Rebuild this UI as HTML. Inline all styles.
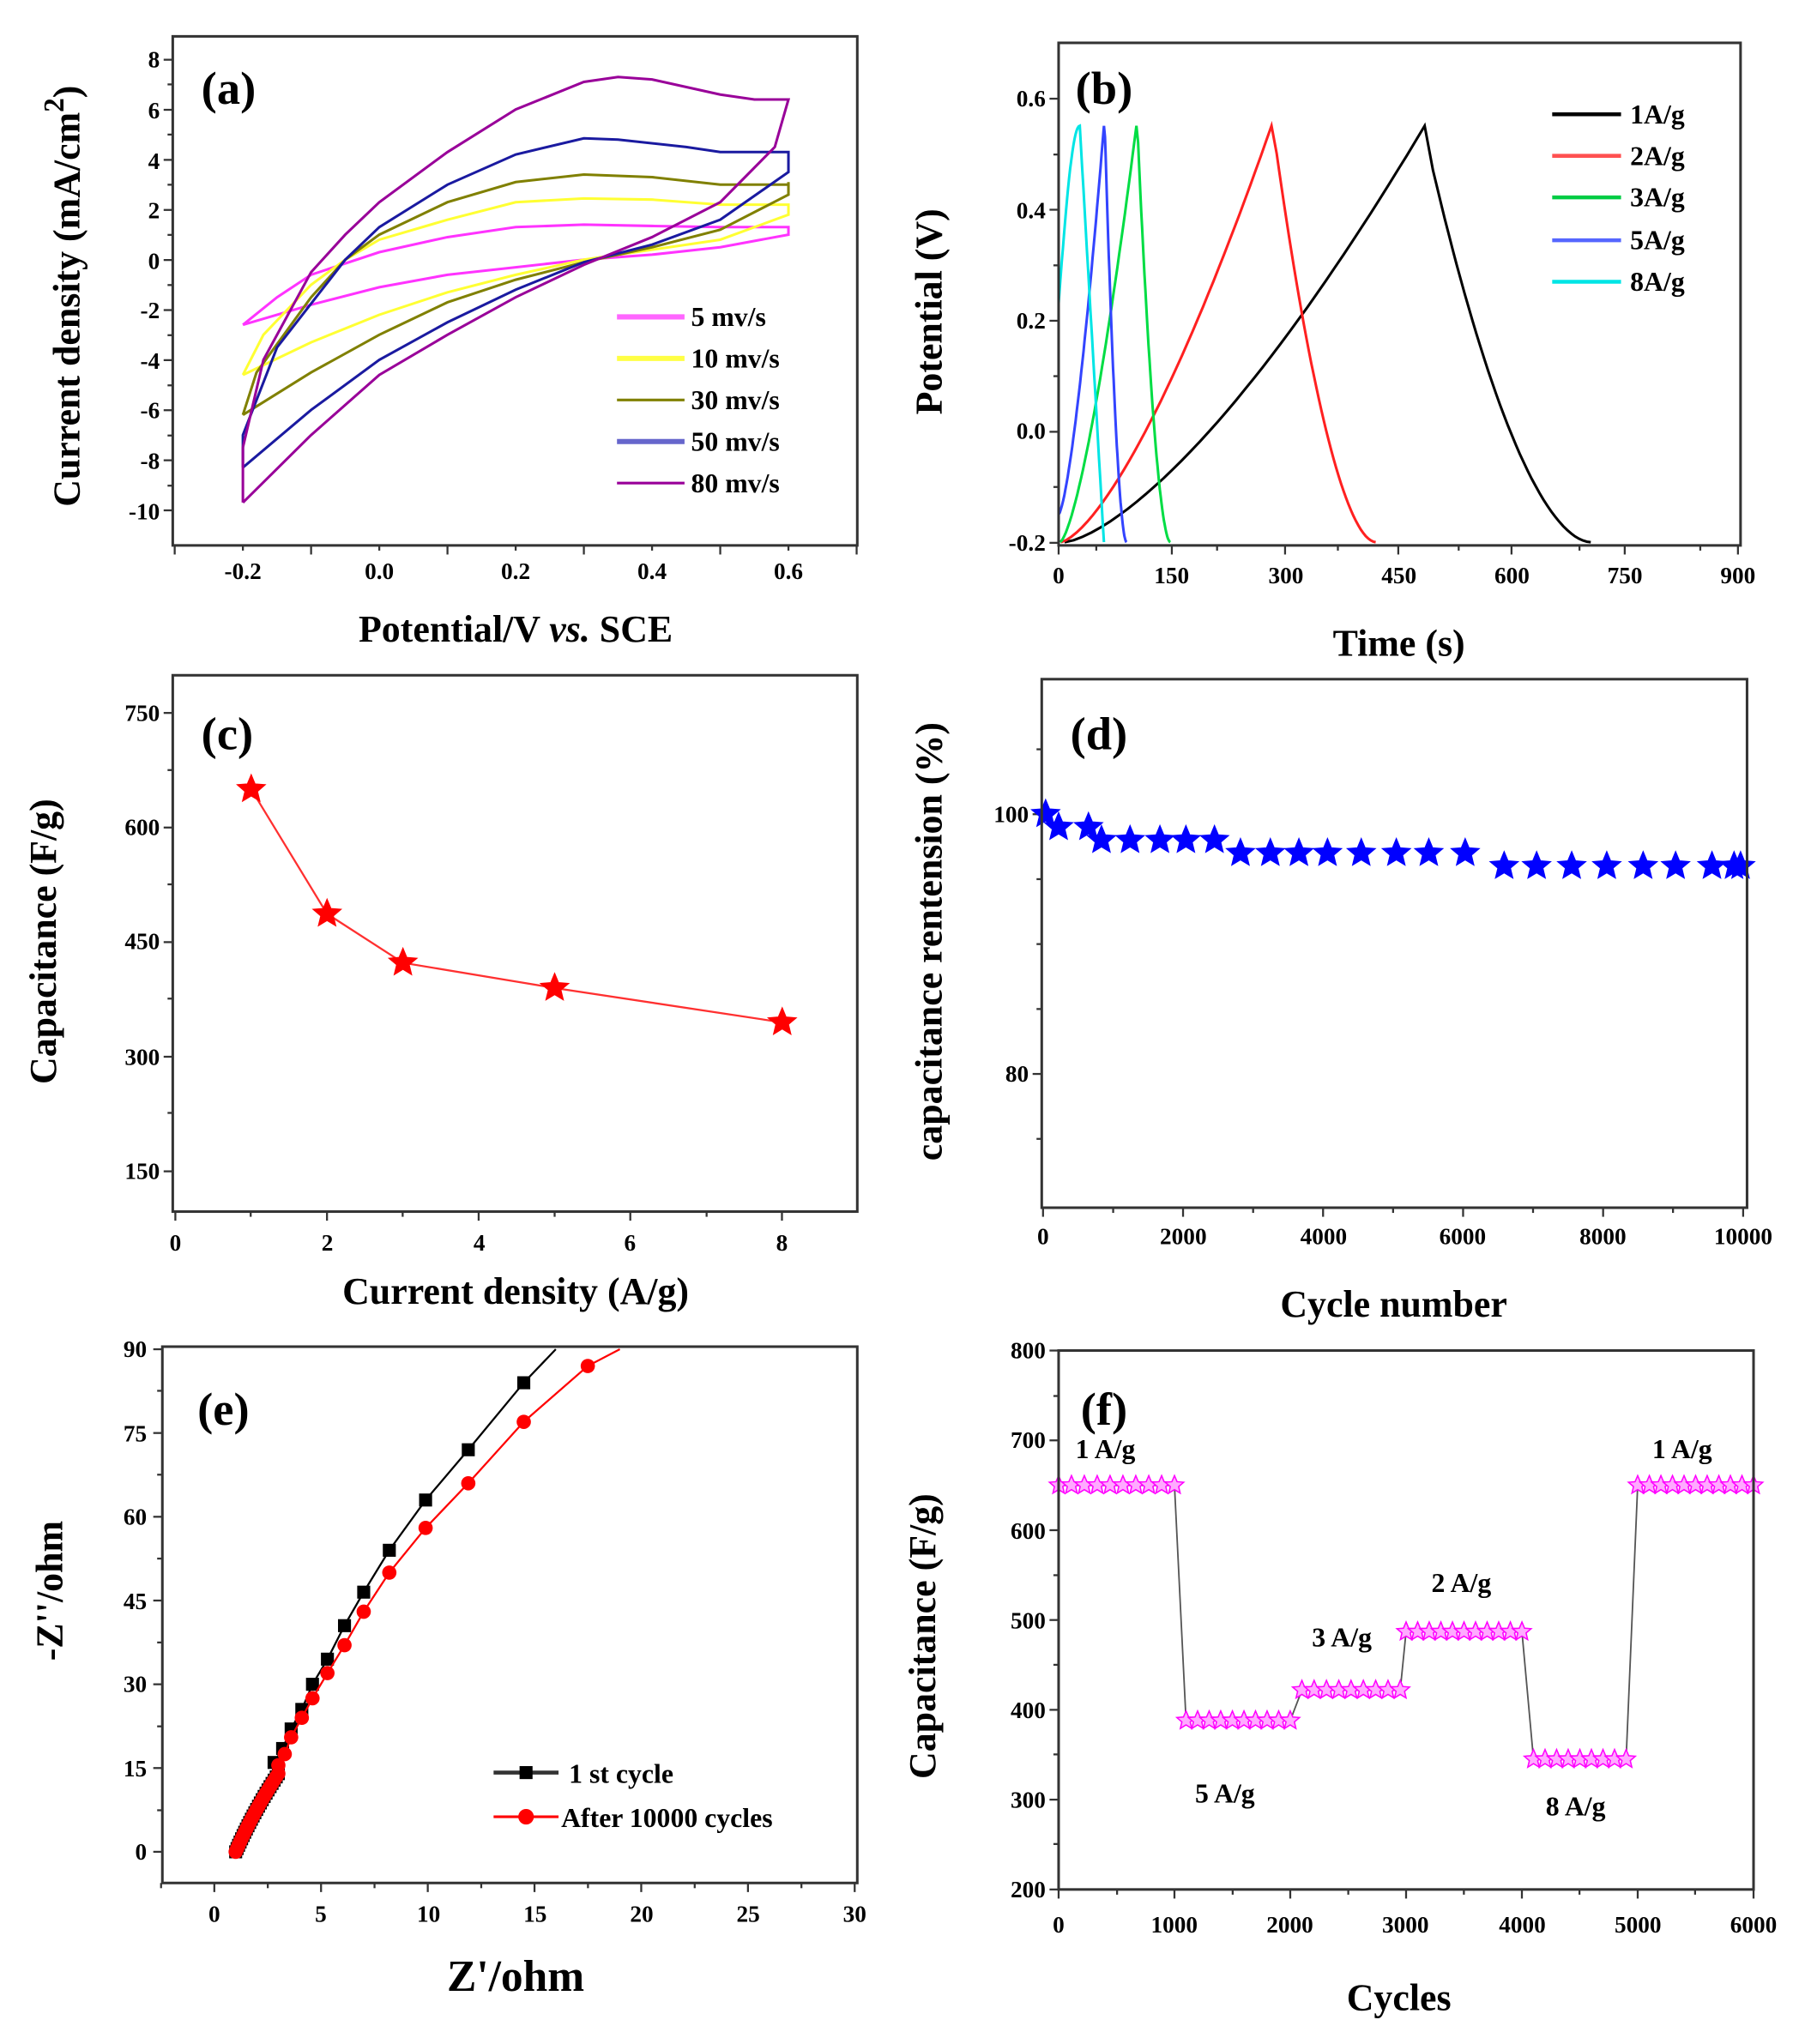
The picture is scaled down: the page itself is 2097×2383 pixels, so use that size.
<!DOCTYPE html>
<html><head><meta charset="utf-8"><style>
html,body{margin:0;padding:0;background:#fff}
svg{display:block}
text{font-family:"Liberation Serif",serif;font-weight:bold;fill:#000}
.t{font-size:18px}
.ax{font-size:29px}
.pl{font-size:36px}
.lg{font-size:21px}
.fr{fill:none;stroke:#333;stroke-width:2}
</style></head><body>
<svg id="s" width="2097" height="2383" viewBox="0 0 1385 1574" preserveAspectRatio="none" xmlns="http://www.w3.org/2000/svg">
<g id="g"></g>
<!-- panel a -->
<rect class="fr" x="133" y="28" width="527" height="392"/>
<text class="pl" x="155" y="80">(a)</text>
<g class="t" text-anchor="end">
<text x="123" y="52">8</text><text x="123" y="91">6</text><text x="123" y="130">4</text><text x="123" y="168">2</text><text x="123" y="207">0</text><text x="123" y="245">-2</text><text x="123" y="284">-4</text><text x="123" y="322">-6</text><text x="123" y="361">-8</text><text x="123" y="400">-10</text>
</g>
<g class="t" text-anchor="middle">
<text x="187" y="446">-0.2</text><text x="292" y="446">0.0</text><text x="397" y="446">0.2</text><text x="502" y="446">0.4</text><text x="607" y="446">0.6</text>
</g>
<text class="ax" x="397" y="494" text-anchor="middle">Potential/V <tspan font-style="italic">vs.</tspan> SCE</text>
<text class="ax" transform="translate(61,228) rotate(-90)" text-anchor="middle">Current density (mA/cm<tspan dy="-12" font-size="22">2</tspan><tspan dy="12">)</tspan></text>
<g class="lg"><text x="532" y="251">5 mv/s</text><text x="532" y="283">10 mv/s</text><text x="532" y="315">30 mv/s</text><text x="532" y="347">50 mv/s</text><text x="532" y="379">80 mv/s</text></g>
<!-- panel b -->
<rect class="fr" x="815" y="33" width="525" height="387"/>
<text class="pl" x="828" y="80">(b)</text>
<g class="t" text-anchor="end">
<text x="805" y="82">0.6</text><text x="805" y="168">0.4</text><text x="805" y="253">0.2</text><text x="805" y="338">0.0</text><text x="805" y="424">-0.2</text>
</g>
<g class="t" text-anchor="middle">
<text x="815" y="449">0</text><text x="902" y="449">150</text><text x="990" y="449">300</text><text x="1077" y="449">450</text><text x="1164" y="449">600</text><text x="1251" y="449">750</text><text x="1338" y="449">900</text>
</g>
<text class="ax" x="1077" y="505" text-anchor="middle">Time (s)</text>
<text class="ax" transform="translate(725,240) rotate(-90)" text-anchor="middle">Potential (V)</text>
<g class="lg"><text x="1255" y="95">1A/g</text><text x="1255" y="127">2A/g</text><text x="1255" y="159">3A/g</text><text x="1255" y="192">5A/g</text><text x="1255" y="224">8A/g</text></g>
<!-- panel c -->
<rect class="fr" x="133" y="520" width="527" height="413"/>
<text class="pl" x="155" y="577">(c)</text>
<g class="t" text-anchor="end">
<text x="123" y="555">750</text><text x="123" y="643">600</text><text x="123" y="731">450</text><text x="123" y="820">300</text><text x="123" y="908">150</text>
</g>
<g class="t" text-anchor="middle">
<text x="135" y="963">0</text><text x="252" y="963">2</text><text x="369" y="963">4</text><text x="485" y="963">6</text><text x="602" y="963">8</text>
</g>
<text class="ax" x="397" y="1004" text-anchor="middle">Current density (A/g)</text>
<text class="ax" transform="translate(43,725) rotate(-90)" text-anchor="middle">Capacitance (F/g)</text>
<!-- panel d -->
<rect class="fr" x="802" y="523" width="543" height="407"/>
<text class="pl" x="824" y="577">(d)</text>
<g class="t" text-anchor="end">
<text x="792" y="633">100</text><text x="792" y="833">80</text>
</g>
<g class="t" text-anchor="middle">
<text x="803" y="958">0</text><text x="911" y="958">2000</text><text x="1019" y="958">4000</text><text x="1126" y="958">6000</text><text x="1234" y="958">8000</text><text x="1342" y="958">10000</text>
</g>
<text class="ax" x="1073" y="1014" text-anchor="middle">Cycle number</text>
<text class="ax" transform="translate(725,725) rotate(-90)" text-anchor="middle">capacitance rentension (%)</text>
<!-- panel e -->
<rect class="fr" x="125" y="1037" width="535" height="413"/>
<text class="pl" x="152" y="1097">(e)</text>
<g class="t" text-anchor="end">
<text x="113" y="1045">90</text><text x="113" y="1110">75</text><text x="113" y="1174">60</text><text x="113" y="1239">45</text><text x="113" y="1303">30</text><text x="113" y="1368">15</text><text x="113" y="1432">0</text>
</g>
<g class="t" text-anchor="middle">
<text x="165" y="1480">0</text><text x="247" y="1480">5</text><text x="330" y="1480">10</text><text x="412" y="1480">15</text><text x="494" y="1480">20</text><text x="576" y="1480">25</text><text x="658" y="1480">30</text>
</g>
<text class="ax" x="397" y="1533" text-anchor="middle" style="font-size:34px">Z'/ohm</text>
<text class="ax" transform="translate(48,1225) rotate(-90)" text-anchor="middle">-Z''/ohm</text>
<g class="lg"><text x="438" y="1373">1 st cycle</text><text x="432" y="1407">After 10000 cycles</text></g>
<!-- panel f -->
<rect class="fr" x="815" y="1040" width="535" height="415"/>
<text class="pl" x="832" y="1097">(f)</text>
<g class="t" text-anchor="end">
<text x="805" y="1046">800</text><text x="805" y="1115">700</text><text x="805" y="1185">600</text><text x="805" y="1254">500</text><text x="805" y="1323">400</text><text x="805" y="1392">300</text><text x="805" y="1461">200</text>
</g>
<g class="t" text-anchor="middle">
<text x="815" y="1488">0</text><text x="904" y="1488">1000</text><text x="993" y="1488">2000</text><text x="1082" y="1488">3000</text><text x="1172" y="1488">4000</text><text x="1261" y="1488">5000</text><text x="1350" y="1488">6000</text>
</g>
<text class="ax" x="1077" y="1548" text-anchor="middle">Cycles</text>
<text class="ax" transform="translate(720,1260) rotate(-90)" text-anchor="middle">Capacitance (F/g)</text>
<g class="lg"><text x="828" y="1123">1 A/g</text><text x="1272" y="1123">1 A/g</text><text x="1102" y="1226">2 A/g</text><text x="1010" y="1268">3 A/g</text><text x="920" y="1388">5 A/g</text><text x="1190" y="1398">8 A/g</text></g>
</svg>
<script>
var g=document.getElementById('g'),h='';
function P(pts,c,w){h+='<polyline fill="none" stroke="'+c+'" stroke-width="'+(w||2)+'" points="'+pts.map(function(p){return p[0].toFixed(1)+','+p[1].toFixed(1)}).join(' ')+'"/>';}
function L(x1,y1,x2,y2,c,w){h+='<line x1="'+x1+'" y1="'+y1+'" x2="'+x2+'" y2="'+y2+'" stroke="'+(c||'#333')+'" stroke-width="'+(w||1.5)+'"/>';}
function star(x,y,r,c,fill){var s=[];for(var i=0;i<10;i++){var a=-Math.PI/2+i*Math.PI/5,rr=i%2?r*0.45:r;s.push((x+rr*Math.cos(a)).toFixed(1)+','+(y+rr*Math.sin(a)).toFixed(1));}h+='<polygon points="'+s.join(' ')+'" fill="'+fill+'" stroke="'+c+'" stroke-width="1"/>';}
function ticksY(x,ys,minor){ys.forEach(function(y){L(x-7,y,x,y);});(minor||[]).forEach(function(y){L(x-4,y,x,y);});}
function ticksX(y,xs,minor){xs.forEach(function(x){L(x,y,x,y+7);});(minor||[]).forEach(function(x){L(x,y,x,y+4);});}
function rng(a,b,n){var r=[];for(var i=0;i<n;i++)r.push(a+(b-a)*i/(n-1));return r;}
ticksY(133,rng(46,393,10),rng(65,374,9));ticksX(420,rng(134.5,659.5,6),rng(187,607,5));
var ax=function(v){return 292+525*v},ay=function(i){return 200-19.28*i};
function cv(up,lo,c){var pts=up.concat(lo).map(function(p){return [ax(p[0]),ay(p[1])]});P(pts,c,2);}
cv([[-0.2,-2.6],[-0.15,-1.5],[-0.1,-0.6],[0,0.3],[0.1,0.9],[0.2,1.3],[0.3,1.4],[0.4,1.35],[0.5,1.3],[0.6,1.3]],[[0.6,1],[0.5,0.5],[0.4,0.2],[0.3,0],[0.2,-0.3],[0.1,-0.6],[0,-1.1],[-0.1,-1.8],[-0.2,-2.6]],'#ff33ff');
cv([[-0.2,-4.6],[-0.17,-3],[-0.1,-1],[-0.05,0],[0,0.8],[0.1,1.6],[0.2,2.3],[0.3,2.45],[0.4,2.4],[0.5,2.2],[0.6,2.2]],[[0.6,1.8],[0.5,0.8],[0.4,0.4],[0.3,0],[0.2,-0.6],[0.1,-1.3],[0,-2.2],[-0.1,-3.3],[-0.2,-4.6]],'#ffff33');
cv([[-0.2,-6.2],[-0.18,-4.5],[-0.1,-1.5],[-0.05,0],[0,1],[0.1,2.3],[0.2,3.1],[0.3,3.4],[0.4,3.3],[0.5,3],[0.6,3],[0.6,3.1]],[[0.6,2.6],[0.5,1.2],[0.4,0.5],[0.3,-0.1],[0.2,-0.8],[0.1,-1.7],[0,-3],[-0.1,-4.5],[-0.2,-6.2]],'#808000');
cv([[-0.2,-8.3],[-0.2,-7],[-0.15,-3.5],[-0.05,0],[0,1.3],[0.1,3],[0.2,4.2],[0.3,4.85],[0.35,4.8],[0.45,4.5],[0.5,4.3],[0.6,4.3]],[[0.6,3.5],[0.5,1.6],[0.4,0.6],[0.3,-0.1],[0.2,-1.2],[0.1,-2.5],[0,-4],[-0.1,-6],[-0.2,-8.3]],'#1a1aa0');
cv([[-0.2,-9.7],[-0.2,-7.5],[-0.17,-4],[-0.1,-0.5],[-0.05,1],[0,2.3],[0.1,4.3],[0.2,6],[0.3,7.1],[0.35,7.3],[0.4,7.2],[0.5,6.6],[0.55,6.4],[0.6,6.4]],[[0.6,6.4],[0.58,4.5],[0.5,2.3],[0.4,0.9],[0.3,-0.2],[0.2,-1.5],[0.1,-3],[0,-4.6],[-0.1,-7],[-0.2,-9.7]],'#990099');
[['#ff66ff',244,4],['#ffff44',276,4],['#808000',308,2],['#6666cc',340,4],['#990099',372,2]].forEach(function(a){L(475,a[1],527,a[1],a[0],a[2]);});
ticksY(815,rng(76,418,5),rng(119,375,4));ticksX(420,rng(815,1338,7),rng(844,1309,6));
var bx=function(t){return 815+523/900*t},by=function(v){return 332-427.5*v};
function gcd(t0,tp,te,v0,c,ir){var pts=[];for(var i=0;i<=40;i++){var u=i/40;pts.push([bx(t0+(tp-t0)*u),by(v0+(0.55-v0)*Math.pow(u,1.45))]);}
var td=tp+(te-tp)*0.05;pts.push([bx(td),by(0.55-ir)]);for(var i=1;i<=40;i++){var u=i/40;pts.push([bx(td+(te-td)*u),by(0.55-ir-(0.75-ir)*(1-Math.pow(1-u,1.8)))]);}P(pts,c,2);}
gcd(8,485,705,-0.2,'#000',0.08);gcd(3,282,420,-0.2,'#ff2020',0.05);gcd(2,103,148,-0.2,'#00dd44',0.03);gcd(0,60,90,-0.15,'#3344ff',0.02);
(function(){var pts=[];for(var i=0;i<=20;i++){var u=i/20;pts.push([bx(28*u),by(0.23+0.32*Math.sin(u*Math.PI/2))]);}for(var i=1;i<=20;i++){var u=i/20;pts.push([bx(28+32*u),by(0.55-0.75*u)]);}P(pts,'#00e5e5',2);})();
[['#000',88],['#ff5050',120],['#00cc44',152],['#5566ff',185],['#00e5e5',217]].forEach(function(a){L(1195,a[1],1248,a[1],a[0],3);});
ticksY(133,rng(549,902,5),rng(593,857,4));ticksX(933,rng(135,602,5),rng(193,544,4));
var cp=[[1,650],[2,487],[3,423],[5,390],[8,345]].map(function(p){return [135+58.4*p[0],549+(750-p[1])*353/600]});
P(cp,'#ff3030',1.5);cp.forEach(function(p){star(p[0],p[1],11,'#ff0000','#ff0000');});
ticksY(802,[627,827],[577,677,727,777,877]);ticksX(930,rng(803,1342,6),rng(857,1288,5));
var dx=[805,815,838,848,870,893,913,935,955,978,1000,1022,1048,1075,1100,1128,1158,1183,1210,1237,1265,1290,1318,1335,1340];
var dv=[100,99,99,98,98,98,98,98,97,97,97,97,97,97,97,97,96,96,96,96,96,96,96,96,96];
dx.forEach(function(x,i){star(x,627+(100-dv[i])*10,11,'#0000ff','#0000ff');});
ticksY(125,rng(1039,1426,7),rng(1071,1394,6));ticksX(1450,rng(165,658,7),rng(124,617,7));
var ex=function(z){return 165+16.43*z},ey=function(z){return 1426-4.3*z};
function eis(pts,dense,c,shape){var a=[];for(var i=0;i<dense;i++){var u=i/(dense-1);a.push([1+1.6*u+0.4*u*u,14*u]);}var all=a.concat(pts);P(all.map(function(p){return [ex(p[0]),ey(p[1])]}),c,1.5);
all.forEach(function(p){var x=ex(p[0]),y=ey(p[1]);if(y<1040)return;if(shape)h+='<rect x="'+(x-5)+'" y="'+(y-5)+'" width="10" height="10" fill="'+c+'"/>';else h+='<circle cx="'+x+'" cy="'+y+'" r="5.5" fill="'+c+'"/>';});}
eis([[2.8,16],[3.2,18.5],[3.6,22],[4.1,25.5],[4.6,30],[5.3,34.5],[6.1,40.5],[7,46.5],[8.2,54],[9.9,63],[11.9,72],[14.5,84],[16,90]],25,'#000',1);
eis([[3,15.5],[3.3,17.5],[3.6,20.5],[4.1,24],[4.6,27.5],[5.3,32],[6.1,37],[7,43],[8.2,50],[9.9,58],[11.9,66],[14.5,77],[17.5,87],[19,90]],25,'#ff0000',0);
L(380,1365,430,1365,'#333',3);h+='<rect x="400" y="1360" width="10" height="10" fill="#000"/>';
L(380,1399,430,1399,'#ff0000',2);h+='<circle cx="405" cy="1399" r="6" fill="#ff0000"/>';
ticksY(815,rng(1040,1455,7),rng(1075,1420,6));ticksX(1455,rng(815,1350,7),rng(860,1305,6));
var fx=function(c){return 815+535/6000*c},fy=function(v){return 1040+(800-v)*415/600};
var grp=[[0,1000,650,10],[1100,2000,388,10],[2100,2950,422,9],[3000,4000,487,11],[4100,4900,345,9],[5000,6000,650,11]];
var line=[];grp.forEach(function(g){line.push([fx(g[0]),fy(g[2])]);line.push([fx(g[1]),fy(g[2])]);});
P(line,'#555',1.2);
grp.forEach(function(g){for(var i=0;i<g[3];i++){var c=g[0]+(g[1]-g[0])*i/(g[3]-1);star(fx(c),fy(g[2]),7.5,'#ff00ff','#ffaaff');}});
g.innerHTML=h;
</script>
</body></html>
